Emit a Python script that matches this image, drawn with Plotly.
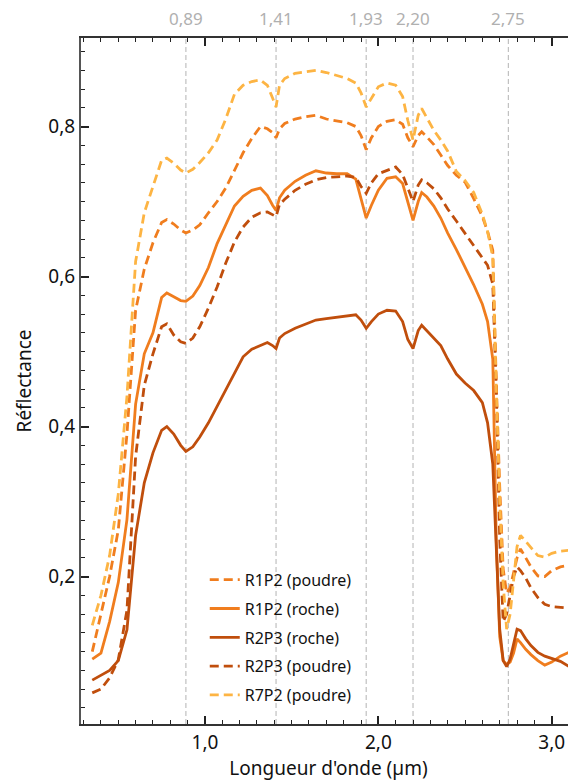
import plotly.graph_objects as go

# longueurs d'onde (µm) communes à toutes les courbes
wavelength = [0.35, 0.40, 0.45, 0.50, 0.55, 0.60, 0.65, 0.70, 0.75, 0.78,
              0.82, 0.86, 0.89, 0.93, 0.97, 1.02, 1.07, 1.12, 1.17, 1.22,
              1.27, 1.32, 1.36, 1.39, 1.41, 1.43, 1.46, 1.52, 1.58, 1.64,
              1.70, 1.76, 1.82, 1.87, 1.90, 1.93, 1.96, 2.00, 2.05, 2.10,
              2.14, 2.17, 2.20, 2.23, 2.25, 2.28, 2.32, 2.36, 2.40, 2.45,
              2.50, 2.55, 2.60, 2.63, 2.66, 2.68, 2.70, 2.72, 2.74, 2.76,
              2.78, 2.80, 2.82, 2.85, 2.88, 2.92, 2.96, 3.00, 3.05, 3.10]

r1p2_poudre = [0.100, 0.148, 0.200, 0.262, 0.390, 0.555, 0.610, 0.645, 0.672, 0.676,
               0.670, 0.662, 0.658, 0.662, 0.669, 0.685, 0.700, 0.718, 0.742, 0.765,
               0.784, 0.800, 0.797, 0.792, 0.785, 0.797, 0.804, 0.810, 0.813, 0.815,
               0.810, 0.807, 0.805, 0.800, 0.788, 0.769, 0.785, 0.800, 0.807, 0.809,
               0.803, 0.785, 0.773, 0.788, 0.793, 0.786, 0.776, 0.762, 0.748, 0.735,
               0.726, 0.704, 0.680, 0.660, 0.635, 0.460, 0.320, 0.210, 0.178, 0.185,
               0.205, 0.225, 0.237, 0.225, 0.213, 0.201, 0.200, 0.208, 0.213, 0.215]

r1p2_roche = [0.090, 0.098, 0.140, 0.192, 0.276, 0.430, 0.497, 0.525, 0.572, 0.578,
              0.573, 0.568, 0.567, 0.574, 0.588, 0.612, 0.644, 0.668, 0.694, 0.707,
              0.715, 0.718, 0.708, 0.695, 0.688, 0.705, 0.715, 0.727, 0.735, 0.741,
              0.738, 0.737, 0.737, 0.730, 0.705, 0.678, 0.695, 0.715, 0.731, 0.733,
              0.724, 0.698, 0.675, 0.700, 0.712, 0.706, 0.694, 0.678, 0.658, 0.636,
              0.613, 0.589, 0.563, 0.540, 0.490, 0.250, 0.120, 0.088, 0.083, 0.086,
              0.098, 0.117, 0.112, 0.103, 0.096, 0.088, 0.082, 0.086, 0.094, 0.099]

r2p3_roche = [0.062, 0.069, 0.075, 0.088, 0.129, 0.255, 0.325, 0.365, 0.395, 0.400,
              0.390, 0.375, 0.367, 0.373, 0.386, 0.405, 0.427, 0.450, 0.472, 0.493,
              0.503, 0.508, 0.512, 0.508, 0.504, 0.518, 0.524, 0.531, 0.537, 0.542,
              0.544, 0.546, 0.548, 0.549, 0.542, 0.531, 0.540, 0.550, 0.555, 0.554,
              0.540, 0.516, 0.504, 0.528, 0.535, 0.528, 0.518, 0.508, 0.490, 0.470,
              0.458, 0.448, 0.432, 0.405, 0.350, 0.230, 0.130, 0.088, 0.080, 0.090,
              0.108, 0.130, 0.128, 0.117, 0.108, 0.099, 0.094, 0.091, 0.087, 0.080]

r2p3_poudre = [0.045, 0.050, 0.065, 0.089, 0.155, 0.360, 0.455, 0.497, 0.533, 0.537,
               0.522, 0.513, 0.511, 0.518, 0.533, 0.558, 0.586, 0.618, 0.646, 0.666,
               0.679, 0.685, 0.686, 0.683, 0.680, 0.696, 0.703, 0.715, 0.723, 0.729,
               0.732, 0.733, 0.734, 0.732, 0.720, 0.711, 0.725, 0.737, 0.742, 0.746,
               0.736, 0.717, 0.700, 0.722, 0.729, 0.725, 0.717, 0.705, 0.690, 0.674,
               0.658, 0.642, 0.625, 0.615, 0.590, 0.450, 0.250, 0.140, 0.150, 0.175,
               0.200, 0.213, 0.208, 0.198, 0.185, 0.172, 0.163, 0.160, 0.159, 0.158]

r7p2_poudre = [0.135, 0.175, 0.228, 0.310, 0.440, 0.620, 0.685, 0.720, 0.755, 0.758,
               0.751, 0.742, 0.738, 0.743, 0.752, 0.765, 0.782, 0.810, 0.843, 0.855,
               0.860, 0.862, 0.855, 0.838, 0.826, 0.855, 0.864, 0.871, 0.873, 0.875,
               0.872, 0.868, 0.864, 0.858, 0.845, 0.826, 0.838, 0.853, 0.858, 0.855,
               0.840, 0.808, 0.782, 0.815, 0.824, 0.812, 0.795, 0.782, 0.767, 0.740,
               0.728, 0.712, 0.683, 0.660, 0.626, 0.450, 0.300, 0.190, 0.130, 0.150,
               0.195, 0.240, 0.255, 0.247, 0.238, 0.228, 0.226, 0.231, 0.234, 0.235]

# bandes d'absorption repérées
bands = [0.89, 1.41, 1.93, 2.20, 2.75]
band_labels = ['0,89', '1,41', '1,93', '2,20', '2,75']

# graduations principales
x_major = [1.0, 2.0, 3.0]
y_major = [0.2, 0.4, 0.6, 0.8]

light = '#FDB443'
mid = '#F07D1E'
dark = '#C04E0C'

series = [
    ('R1P2 (poudre)', r1p2_poudre, mid, '9px,5px'),
    ('R1P2 (roche)', r1p2_roche, mid, 'solid'),
    ('R2P3 (roche)', r2p3_roche, dark, 'solid'),
    ('R2P3 (poudre)', r2p3_poudre, dark, '9px,5px'),
    ('R7P2 (poudre)', r7p2_poudre, light, '9px,5px'),
]

X_RANGE = [0.285, 3.14]
Y_RANGE = [0.0035, 0.918]

fig = go.Figure()

# lignes verticales des bandes + étiquettes en haut
for b, lab in zip(bands, band_labels):
    fig.add_vline(x=b, line=dict(color='#c0c0c0', width=1.2, dash='5px,3px'), layer='below')
    fig.add_annotation(x=b, y=1, xref='x', yref='paper', yanchor='bottom', yshift=6,
                       text=lab, showarrow=False,
                       font=dict(size=17, color='#b0b0b0'))

for name, vals, color, dash in series:
    fig.add_trace(go.Scatter(
        x=wavelength, y=vals, name=name, mode='lines', legendgroup=name,
        line=dict(color=color, width=2.8, dash=dash)
    ))

font = 'Noto Sans, DejaVu Sans, sans-serif'

# la page html ajoute 8 px de marge au body : on compense
fig.update_layout(
    width=568, height=775,
    paper_bgcolor='white', plot_bgcolor='white',
    separators=', ',
    font=dict(family=font, color='#111'),
    margin=dict(l=73, r=0, t=30, b=59),
    showlegend=True,
    legend=dict(
        x=0.25, y=0.235, xanchor='left', yanchor='top',
        bgcolor='rgba(0,0,0,0)', borderwidth=0,
        font=dict(size=16, color='#111', family=font),
        tracegroupgap=5, itemwidth=30,
    ),
)

fig.update_xaxes(
    range=X_RANGE, tickvals=x_major, tickformat='.1f',
    showline=True, linecolor='#333', linewidth=1.5, mirror='allticks',
    ticks='inside', ticklen=8, tickwidth=1.5, tickcolor='#222',
    minor=dict(dtick=0.1, tick0=0, ticks='inside', ticklen=4, tickwidth=1.3, tickcolor='#222'),
    showgrid=False, zeroline=False, automargin=False,
    tickfont=dict(size=19, color='#111', family=font),
    title=dict(text="Longueur d'onde (µm)", font=dict(size=19), standoff=4),
)
fig.update_yaxes(
    range=Y_RANGE, tickvals=y_major, tickformat='.1f',
    showline=True, linecolor='#555', linewidth=2, mirror='allticks',
    ticks='inside', ticklen=8, tickwidth=1.5, tickcolor='#222',
    minor=dict(dtick=0.025, tick0=0, ticks='inside', ticklen=4, tickwidth=1.3, tickcolor='#222'),
    showgrid=False, zeroline=False, automargin=False,
    tickfont=dict(size=19, color='#111', family=font),
    title=dict(text='Réflectance', font=dict(size=19), standoff=12),
)

fig.write_html('out.html')
